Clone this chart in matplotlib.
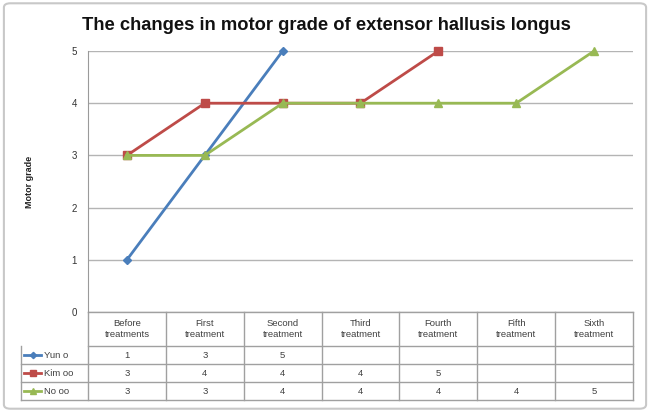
import matplotlib
matplotlib.use('Agg')
import matplotlib.pyplot as plt
import matplotlib.transforms as mtransforms
from matplotlib.patches import FancyBboxPatch
import numpy as np

categories = ['Before\ntreatments', 'First\ntreatment', 'Second\ntreatment', 'Third\ntreatment',
              'Fourth\ntreatment', 'Fifth\ntreatment', 'Sixth\ntreatment']
names = ['Yun o', 'Kim oo', 'No oo']
yun = [1, 3, 5, np.nan, np.nan, np.nan, np.nan]
kim = [3, 4, 4, 4, 5, np.nan, np.nan]
no = [3, 3, 4, 4, 4, 4, 5]
series = [yun, kim, no]
colors = ['#4A7EBB', '#BE4B48', '#98B954']
markers = ['D', 's', '^']
msizes = [4, 6, 6]

plt.rcParams['font.family'] = ['Liberation Sans', 'DejaVu Sans']

fig = plt.figure(figsize=(6.5, 4.12), dpi=100)
# outer chart frame
fig.patches.append(FancyBboxPatch((0.006, 0.008), 0.988, 0.984, boxstyle='round,pad=0,rounding_size=0.01',
                                  transform=fig.transFigure, fill=False, edgecolor='#c8c8c8', lw=1.5))

ax = fig.add_axes([88 / 650, 1 - 312 / 412, 545 / 650, 261 / 412])
x = np.arange(len(categories)) + 0.5

for vals, c, m, ms in zip(series, colors, markers, msizes):
    ax.plot(x, vals, color=c, lw=2, marker=m, ms=ms, zorder=3, clip_on=False)

ax.set_xlim(0, len(categories))
ax.set_ylim(0, 5)
ax.set_yticks(range(6))
ax.set_xticks([])
ax.tick_params(axis='y', length=0, labelsize=7, pad=8, labelcolor='#333333')
ax.grid(axis='y', color='#b4b4b4', lw=1)
ax.set_axisbelow(True)
for s in ['top', 'right', 'bottom']:
    ax.spines[s].set_visible(False)
ax.spines['left'].set_color('#9a9a9a')

fig.text(30 / 650, 1 - 182 / 412, 'Motor grade', rotation=90, ha='center', va='center',
         fontsize=6.5, fontweight='bold', color='#222222')
fig.text(326 / 650, 1 - 25 / 412, 'The changes in motor grade of extensor hallusis longus',
         ha='center', va='center', fontsize=13.2, fontweight='bold', color='#111111')

# data table under the axes
tr = mtransforms.blended_transform_factory(ax.transData, ax.transAxes)
px = 261.0
head_bot = -34 / px
row_h = 18 / px
bottom = head_bot - 3 * row_h
lab_left = -67 / 77.86
lc = '#a0a0a0'
n = len(categories)

ax.plot([0, n], [0, 0], color=lc, lw=1, transform=tr, clip_on=False)
ax.plot([0, n], [head_bot, head_bot], color=lc, lw=1, transform=tr, clip_on=False)
for i in range(1, 4):
    yy = head_bot - i * row_h
    ax.plot([lab_left, n], [yy, yy], color=lc, lw=1, transform=tr, clip_on=False)
ax.plot([lab_left, lab_left], [head_bot, bottom], color=lc, lw=1, transform=tr, clip_on=False)
for k in range(n + 1):
    ax.plot([k, k], [0, bottom], color=lc, lw=1, transform=tr, clip_on=False)

for k, cat in enumerate(categories):
    ax.text(k + 0.5, head_bot / 2, cat, transform=tr, ha='center', va='center',
            fontsize=6.8, color='#404040', linespacing=1.3)

for r, (name, vals, c, m, ms) in enumerate(zip(names, series, colors, markers, msizes)):
    yc = head_bot - (r + 0.5) * row_h
    ax.plot([-0.82, -0.6], [yc, yc], color=c, lw=2, transform=tr, clip_on=False)
    ax.plot([-0.71], [yc], color=c, marker=m, ms=ms * 0.8, transform=tr, clip_on=False)
    ax.text(-0.56, yc, name, transform=tr, ha='left', va='center', fontsize=6.8, color='#404040')
    for k, v in enumerate(vals):
        if not np.isnan(v):
            ax.text(k + 0.5, yc, '%d' % v, transform=tr, ha='center', va='center',
                    fontsize=6.8, color='#404040')

fig.savefig('out.png', dpi=100)
